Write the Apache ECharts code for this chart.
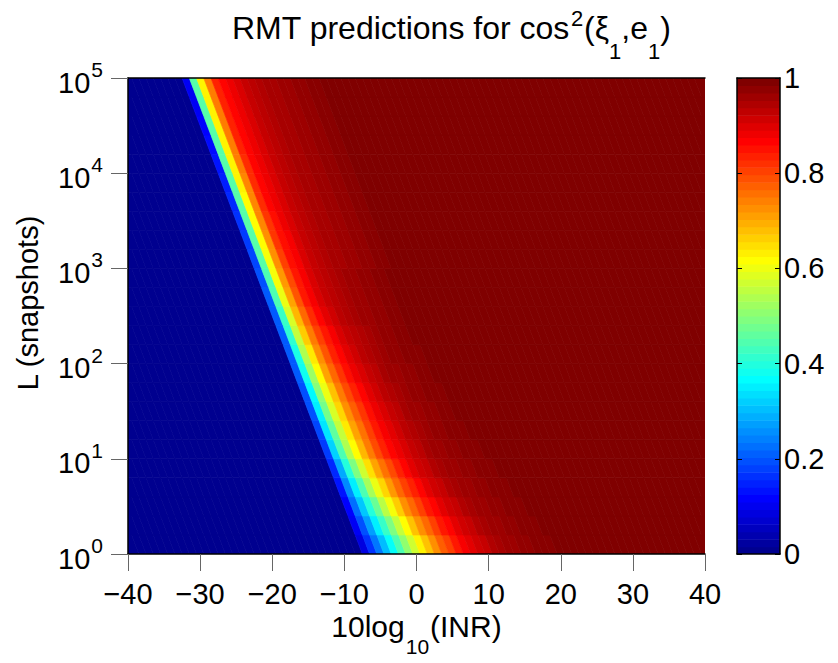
<!DOCTYPE html>
<html>
<head>
<meta charset="utf-8">
<title>RMT predictions for cos2</title>
<script src="https://cdn.jsdelivr.net/npm/echarts@6/dist/echarts.min.js"></script>
<style>
html,body{margin:0;padding:0;background:#fff;}
#main{width:838px;height:663px;}
</style>
</head>
<body>
<div id="main"></div>
<script>
// rows: log10(L) at the centre of each row of cells
var rowLogL = [0.1,0.3,0.5,0.7,0.9,1.1,1.3,1.5,1.7,1.9,2.1,2.3,2.5,2.7,2.9,3.1,3.3,3.5,3.7,3.9,4.1,4.3,4.5,4.7,4.9];
// 10log10(INR) of the first cell above the blue region, per row
var rampStart = [-7.5,-8.5,-9.5,-10.5,-11.5,-12.5,-13.5,-14.5,-15.5,-16.5,-17.5,-18.5,-19.5,-20.5,-21.5,-22.5,-23.5,-24.5,-25.5,-26.5,-27.5,-28.5,-29.5,-30.5,-31.5];
// cos^2 read across the transition, 1 dB per cell (left of it 0, right of it 1)
var ramps = [
  [0.08,0.16,0.23,0.30,0.37,0.44,0.51,0.57,0.63,0.68,0.73,0.78,0.81,0.85,0.88,0.90,0.92,0.93,0.95,0.96,0.97,0.97,0.98,0.98,0.99,0.99,0.99],
  [0.10,0.19,0.27,0.35,0.42,0.49,0.56,0.62,0.68,0.73,0.77,0.81,0.85,0.87,0.90,0.92,0.93,0.95,0.96,0.97,0.97,0.98,0.98,0.99,0.99,0.99],
  [0.11,0.22,0.31,0.40,0.47,0.55,0.61,0.67,0.73,0.77,0.81,0.85,0.87,0.90,0.92,0.93,0.95,0.96,0.97,0.97,0.98,0.98,0.99,0.99,0.99],
  [0.13,0.25,0.35,0.44,0.53,0.60,0.66,0.72,0.77,0.81,0.84,0.87,0.90,0.92,0.93,0.95,0.96,0.97,0.97,0.98,0.98,0.99,0.99,0.99],
  [0.15,0.28,0.40,0.49,0.57,0.65,0.71,0.76,0.80,0.84,0.87,0.90,0.92,0.93,0.95,0.96,0.97,0.97,0.98,0.98,0.99,0.99,0.99],
  [0.17,0.32,0.44,0.54,0.62,0.69,0.75,0.80,0.84,0.87,0.89,0.91,0.93,0.94,0.96,0.97,0.97,0.98,0.98,0.99,0.99,0.99],
  [0.18,0.34,0.46,0.56,0.64,0.71,0.76,0.81,0.85,0.88,0.90,0.92,0.94,0.95,0.96,0.97,0.98,0.98,0.99,0.99,0.99],
  [0.19,0.35,0.48,0.58,0.66,0.73,0.78,0.82,0.86,0.89,0.91,0.93,0.94,0.96,0.97,0.97,0.98,0.98,0.99,0.99],
  [0.19,0.36,0.50,0.60,0.68,0.75,0.80,0.84,0.87,0.90,0.92,0.94,0.95,0.96,0.97,0.98,0.98,0.99,0.99,0.99],
  [0.20,0.38,0.52,0.62,0.71,0.77,0.82,0.86,0.89,0.91,0.93,0.94,0.96,0.97,0.97,0.98,0.98,0.99,0.99],
  [0.20,0.39,0.54,0.64,0.73,0.79,0.84,0.87,0.90,0.92,0.94,0.95,0.96,0.97,0.98,0.98,0.99,0.99,0.99],
  [0.20,0.41,0.56,0.67,0.75,0.81,0.85,0.88,0.91,0.93,0.94,0.95,0.96,0.97,0.98,0.98,0.99,0.99],
  [0.20,0.42,0.58,0.69,0.77,0.83,0.87,0.90,0.92,0.94,0.95,0.96,0.97,0.97,0.98,0.98,0.99,0.99],
  [0.20,0.44,0.60,0.71,0.79,0.85,0.88,0.91,0.93,0.94,0.95,0.96,0.97,0.97,0.98,0.98,0.99,0.99],
  [0.19,0.44,0.61,0.72,0.80,0.85,0.88,0.91,0.93,0.94,0.95,0.96,0.97,0.97,0.98,0.98,0.99,0.99],
  [0.18,0.45,0.61,0.73,0.81,0.86,0.88,0.91,0.93,0.94,0.95,0.96,0.96,0.97,0.97,0.98,0.98,0.99,0.99],
  [0.17,0.45,0.62,0.73,0.82,0.86,0.88,0.91,0.93,0.94,0.95,0.96,0.96,0.97,0.97,0.98,0.98,0.99,0.99],
  [0.16,0.45,0.62,0.74,0.82,0.86,0.89,0.91,0.93,0.94,0.95,0.96,0.96,0.97,0.97,0.98,0.98,0.99,0.99],
  [0.15,0.45,0.62,0.74,0.83,0.87,0.89,0.91,0.93,0.94,0.95,0.96,0.96,0.97,0.97,0.98,0.98,0.99,0.99],
  [0.14,0.45,0.63,0.74,0.83,0.87,0.89,0.91,0.93,0.94,0.95,0.96,0.96,0.97,0.97,0.98,0.98,0.99,0.99],
  [0.13,0.45,0.63,0.75,0.83,0.87,0.89,0.91,0.93,0.94,0.95,0.96,0.96,0.97,0.97,0.98,0.98,0.99,0.99],
  [0.12,0.45,0.63,0.75,0.84,0.87,0.89,0.91,0.93,0.94,0.95,0.96,0.96,0.97,0.97,0.98,0.98,0.99,0.99],
  [0.11,0.45,0.63,0.75,0.84,0.87,0.89,0.91,0.93,0.94,0.95,0.96,0.96,0.97,0.97,0.98,0.98,0.99,0.99],
  [0.10,0.45,0.63,0.75,0.84,0.87,0.89,0.91,0.93,0.94,0.95,0.96,0.96,0.97,0.97,0.98,0.98,0.99,0.99],
  [0.10,0.45,0.63,0.75,0.84,0.87,0.89,0.91,0.93,0.94,0.95,0.96,0.96,0.97,0.97,0.98,0.98,0.99,0.99]
];
var xMin = -40, xMax = 40;
var barTicks = [0, 0.2, 0.4, 0.6, 0.8, 1];

var FONT = '"Liberation Sans", Arial, Helvetica, sans-serif';
var rowFactor = Math.pow(10, 0.1);   // half a row in L
var shearDb = 0.5;                   // cells follow the 5 dB/decade slope of the edge

// MATLAB style jet colormap
function jetMap(m) {
  var n = Math.ceil(m / 4), u = [], i;
  for (i = 1; i <= n; i++) u.push(i / n);
  for (i = 1; i < n; i++) u.push(1);
  for (i = n; i >= 1; i--) u.push(i / n);
  var g0 = Math.ceil(n / 2) - (m % 4 === 1 ? 1 : 0);
  var r = [], g = [], b = [];
  for (i = 0; i < m; i++) { r.push(0); g.push(0); b.push(0); }
  for (var j = 0; j < u.length; j++) {
    var gi = g0 + j;
    if (gi >= 0 && gi < m) g[gi] = u[j];
    if (gi + n >= 0 && gi + n < m) r[gi + n] = u[j];
    if (gi - n >= 0 && gi - n < m) b[gi - n] = u[j];
  }
  var out = [];
  for (i = 0; i < m; i++) {
    out.push('rgb(' + Math.round(r[i] * 255) + ',' + Math.round(g[i] * 255) + ',' + Math.round(b[i] * 255) + ')');
  }
  return out;
}
var jet = jetMap(64);

var cells = [];
for (var k = 0; k < rowLogL.length; k++) {
  var L = Math.pow(10, rowLogL[k]);
  for (var x = xMin + 0.5; x < xMax; x += 1) {
    var v;
    if (x < rampStart[k]) v = 0;
    else {
      var idx = Math.round(x - rampStart[k]);
      v = idx < ramps[k].length ? ramps[k][idx] : 1;
    }
    cells.push([x, L, v]);
  }
}
var bands = [];
for (var i = 0; i < jet.length; i++) bands.push([0.5, i]);

var myChart = echarts.init(document.getElementById('main'), null, {renderer: 'svg'});

function renderCell(params, api) {
  var x = api.value(0), L = api.value(1);
  var lo = L / rowFactor, hi = L * rowFactor;
  var lb = x - 0.5 <= xMin ? xMin : x - 0.5 + shearDb;
  var rb = x + 0.5 + shearDb;
  var lt = x - 0.5 - shearDb;
  var rt = x + 0.5 >= xMax ? xMax : x + 0.5 - shearDb;
  var color = api.visual('color');
  return {
    type: 'polygon',
    shape: {points: [api.coord([lb, lo]), api.coord([rb, lo]), api.coord([rt, hi]), api.coord([lt, hi])]},
    style: {fill: color, stroke: color, lineWidth: 0.7}
  };
}
function renderBand(params, api) {
  var i = api.value(1), n = jet.length;
  var a = api.coord([0, i / n]);
  var b = api.coord([1, (i + 1) / n]);
  return {
    type: 'rect',
    shape: {x: a[0], y: b[1], width: b[0] - a[0], height: a[1] - b[1] + 0.6},
    style: {fill: jet[i]}
  };
}

var option = {
  animation: false,
  backgroundColor: '#fff',
  title: {
    text: '{b|RMT predictions for cos}{p|2}{b|(\u03BE}{s|1}{b|,e}{s|1}{b|)}',
    left: 232,
    top: 7,
    padding: 0,
    textStyle: {
      fontWeight: 'normal',
      rich: {
        b: {fontSize: 32, fontFamily: FONT, fontWeight: 'normal', color: '#000', verticalAlign: 'bottom', padding: [0, 0, 18, 0]},
        p: {fontSize: 22, fontFamily: FONT, fontWeight: 'normal', color: '#000', verticalAlign: 'bottom', padding: [0, 1, 33, 1]},
        s: {fontSize: 22, fontFamily: FONT, fontWeight: 'normal', color: '#000', verticalAlign: 'bottom'}
      }
    }
  },
  graphic: [{
    type: 'text',
    x: 28,
    y: 303,
    rotation: Math.PI / 2,
    style: {text: 'L (snapshots)', fontSize: 29, fontFamily: FONT, fill: '#000', align: 'center', verticalAlign: 'middle'}
  }],
  grid: [
    {left: 128, top: 78, width: 577, height: 476, outerBoundsMode: 'none'},
    {left: 737, top: 78, width: 43, height: 476, outerBoundsMode: 'none'}
  ],
  visualMap: {
    show: false,
    type: 'continuous',
    min: 0,
    max: 1,
    dimension: 2,
    seriesIndex: 0,
    inRange: {color: jet}
  },
  xAxis: [
    {
      gridIndex: 0, type: 'value', min: xMin, max: xMax, interval: 10, position: 'bottom', z: 10,
      axisLine: {onZero: false, lineStyle: {color: '#000', width: 1.5}},
      axisTick: {inside: false, length: 17, lineStyle: {color: '#666', width: 1}},
      axisLabel: {fontSize: 29, fontFamily: FONT, color: '#000', margin: 25,
        formatter: function (v) { return v < 0 ? '\u2212' + (-v) : String(v); }},
      splitLine: {show: false},
      name: '{b|10log}{s|10}{b|(INR)}',
      nameLocation: 'middle',
      nameGap: 57,
      nameMoveOverlap: false,
      nameTextStyle: {
        rich: {
          b: {fontSize: 30, fontFamily: FONT, color: '#000', verticalAlign: 'bottom', padding: [0, 0, 16, 0]},
          s: {fontSize: 21, fontFamily: FONT, color: '#000', verticalAlign: 'bottom', padding: [0, 1, 0, 1]}
        }
      }
    },
    {
      gridIndex: 0, type: 'value', min: xMin, max: xMax, position: 'top', z: 10,
      axisLine: {onZero: false, lineStyle: {color: '#000', width: 1.5}},
      axisTick: {show: false}, axisLabel: {show: false}, splitLine: {show: false}
    },
    {
      gridIndex: 1, type: 'value', min: 0, max: 1, position: 'bottom', z: 10,
      axisLine: {onZero: false, lineStyle: {color: '#000', width: 1.5}},
      axisTick: {show: false}, axisLabel: {show: false}, splitLine: {show: false}
    },
    {
      gridIndex: 1, type: 'value', min: 0, max: 1, position: 'top', z: 10,
      axisLine: {onZero: false, lineStyle: {color: '#000', width: 1.5}},
      axisTick: {show: false}, axisLabel: {show: false}, splitLine: {show: false}
    }
  ],
  yAxis: [
    {
      gridIndex: 0, type: 'log', logBase: 10, min: 1, max: 100000, position: 'left', z: 10,
      axisLine: {onZero: false, lineStyle: {color: '#000', width: 1.5}},
      axisTick: {inside: false, length: 17, lineStyle: {color: '#666', width: 1}},
      minorTick: {show: false},
      splitLine: {show: false},
      axisLabel: {
        margin: 25,
        formatter: function (v) { return '{b|10}{e|' + Math.round(Math.log(v) / Math.LN10) + '}'; },
        rich: {
          b: {fontSize: 29, fontFamily: FONT, color: '#000', verticalAlign: 'bottom'},
          e: {fontSize: 21, fontFamily: FONT, color: '#000', verticalAlign: 'bottom', padding: [0, 0, 17, 1]}
        }
      }
    },
    {
      gridIndex: 1, type: 'value', min: 0, max: 1, interval: 0.2, position: 'right', z: 10,
      axisLine: {onZero: false, lineStyle: {color: '#000', width: 1.5}},
      axisTick: {inside: true, length: 5, lineStyle: {color: '#000', width: 1}},
      axisLabel: {fontSize: 29, fontFamily: FONT, color: '#000', margin: 4,
        customValues: barTicks,
        formatter: function (v) { return String(Math.round(v * 10) / 10); }},
      splitLine: {show: false}
    },
    {
      gridIndex: 1, type: 'value', min: 0, max: 1, interval: 0.2, position: 'left', z: 10,
      axisLine: {onZero: false, lineStyle: {color: '#000', width: 1.5}},
      axisTick: {inside: true, length: 5, lineStyle: {color: '#000', width: 1}},
      axisLabel: {show: false},
      splitLine: {show: false}
    }
  ],
  series: [
    {
      type: 'custom',
      name: 'cos2',
      coordinateSystem: 'cartesian2d',
      xAxisIndex: 0,
      yAxisIndex: 0,
      clip: true,
      silent: true,
      renderItem: renderCell,
      encode: {x: 0, y: 1},
      data: cells
    },
    {
      type: 'custom',
      name: 'colorbar',
      coordinateSystem: 'cartesian2d',
      xAxisIndex: 2,
      yAxisIndex: 1,
      clip: true,
      silent: true,
      renderItem: renderBand,
      encode: {x: 0, y: 1},
      data: bands
    }
  ]
};
myChart.setOption(option);
</script>
</body>
</html>
